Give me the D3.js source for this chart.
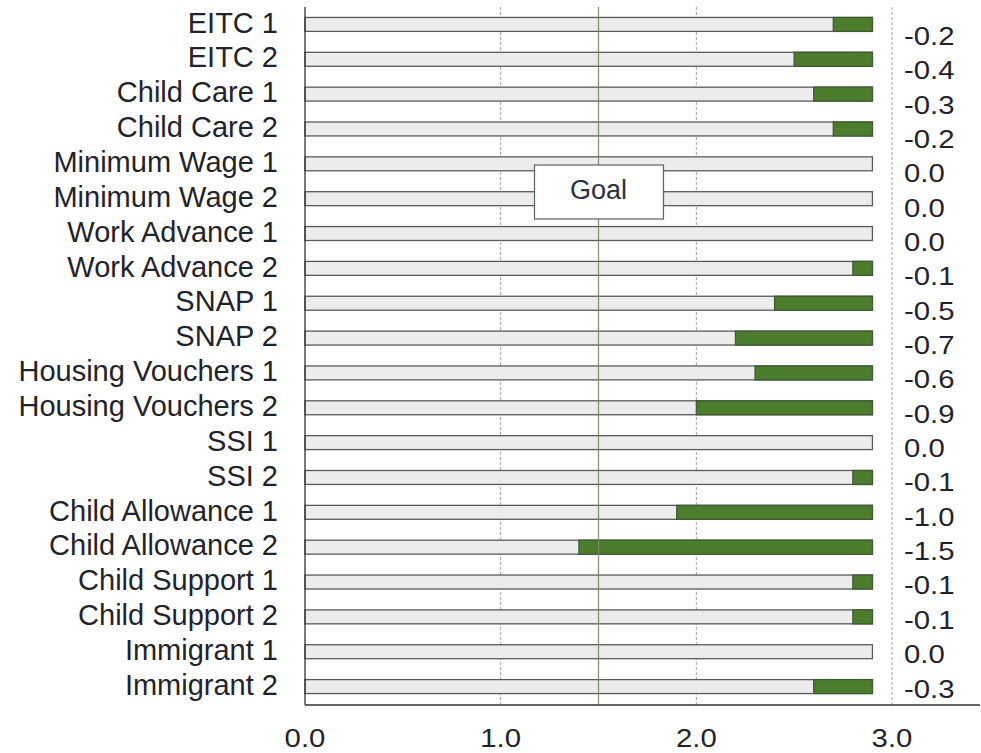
<!DOCTYPE html>
<html>
<head>
<meta charset="utf-8">
<script src="https://cdn.jsdelivr.net/npm/d3@7"></script>
<style>
  html, body { margin: 0; padding: 0; background: #fff; }
  svg { display: block; }
</style>
</head>
<body>
<svg id="chart" width="981" height="753"></svg>
<script>
const categories = [
  "EITC 1", "EITC 2", "Child Care 1", "Child Care 2",
  "Minimum Wage 1", "Minimum Wage 2", "Work Advance 1", "Work Advance 2",
  "SNAP 1", "SNAP 2", "Housing Vouchers 1", "Housing Vouchers 2",
  "SSI 1", "SSI 2", "Child Allowance 1", "Child Allowance 2",
  "Child Support 1", "Child Support 2", "Immigrant 1", "Immigrant 2"
];
const baseline = [2.9, 2.9, 2.9, 2.9, 2.9, 2.9, 2.9, 2.9, 2.9, 2.9,
                  2.9, 2.9, 2.9, 2.9, 2.9, 2.9, 2.9, 2.9, 2.9, 2.9];
const changes = [-0.2, -0.4, -0.3, -0.2, 0.0, 0.0, 0.0, -0.1, -0.5, -0.7,
                 -0.6, -0.9, 0.0, -0.1, -1.0, -1.5, -0.1, -0.1, 0.0, -0.3];
const xTicks = [0, 1, 2, 3];
const goalValue = 1.5;
const goalLabel = "Goal";

const rows = categories.map((c, i) => ({ cat: c, base: baseline[i], change: changes[i] }));

const svg = d3.select("#chart");
const font = "'Liberation Sans', Arial, sans-serif";
const textColor = "#1f232b";

const x = d3.scaleLinear().domain([0, 3]).range([305, 892]);
const y = d3.scaleBand().domain(categories).range([7, 704]).paddingInner(0.6).paddingOuter(0.3);
const yVal = d3.scalePoint().domain(categories).range([45, 697.5]);

const plotTop = 7, plotBottom = 705;

// gridlines (dashed)
svg.append("g").selectAll("line").data(xTicks.filter(d => d > 0)).join("line")
  .attr("x1", d => x(d)).attr("x2", d => x(d))
  .attr("y1", plotTop).attr("y2", plotBottom)
  .attr("stroke", "#a0a0a0").attr("stroke-width", 1).attr("stroke-dasharray", "3,2");

// baseline gray bars
svg.append("g").selectAll("rect").data(rows).join("rect")
  .attr("x", x(0))
  .attr("y", d => y(d.cat))
  .attr("width", d => x(d.base) - x(0))
  .attr("height", y.bandwidth())
  .attr("fill", "#ececec")
  .attr("stroke", "#5a5a5a").attr("stroke-width", 1.3);

// green change segments
svg.append("g").selectAll("rect").data(rows.filter(d => d.change !== 0)).join("rect")
  .attr("x", d => x(d.base + d.change))
  .attr("y", d => y(d.cat))
  .attr("width", d => x(d.base) - x(d.base + d.change))
  .attr("height", y.bandwidth())
  .attr("fill", "#4b7d2c")
  .attr("stroke", "#3f5a33").attr("stroke-width", 1.3);

// goal line
svg.append("line")
  .attr("x1", x(goalValue)).attr("x2", x(goalValue))
  .attr("y1", plotTop).attr("y2", plotBottom)
  .attr("stroke", "#7b8a62").attr("stroke-width", 1.3).attr("opacity", 0.9);

// goal box
const gx = x(goalValue);
svg.append("rect")
  .attr("x", gx - 64).attr("y", 165).attr("width", 129).attr("height", 54)
  .attr("fill", "#fff").attr("stroke", "#5a6070").attr("stroke-width", 1.2);
svg.append("text")
  .attr("x", gx).attr("y", 199)
  .attr("text-anchor", "middle")
  .attr("font-family", font).attr("font-size", 27).attr("fill", "#2a3142")
  .text(goalLabel);

// axes lines
svg.append("line").attr("x1", x(0)).attr("x2", x(0)).attr("y1", plotTop).attr("y2", plotBottom)
  .attr("stroke", "#333").attr("stroke-width", 1.3);
svg.append("line").attr("x1", x(0)).attr("x2", 980).attr("y1", plotBottom).attr("y2", plotBottom)
  .attr("stroke", "#333").attr("stroke-width", 1.3);

// category labels
svg.append("g").selectAll("text").data(rows).join("text")
  .attr("x", 278)
  .attr("y", d => y(d.cat) + y.bandwidth() / 2 + 8.2)
  .attr("text-anchor", "end")
  .attr("font-family", font).attr("font-size", 29).attr("fill", textColor)
  .text(d => d.cat);

// change values on right (slightly wide numerals)
svg.append("g").selectAll("text").data(rows).join("text")
  .attr("transform", d => `translate(904,${yVal(d.cat)}) scale(1.15,1)`)
  .attr("text-anchor", "start")
  .attr("font-family", font).attr("font-size", 25.5).attr("fill", textColor)
  .text(d => d.change.toFixed(1));

// x tick labels
svg.append("g").selectAll("text").data(xTicks).join("text")
  .attr("transform", d => `translate(${x(d)},746.5) scale(1.15,1)`)
  .attr("text-anchor", "middle")
  .attr("font-family", font).attr("font-size", 25.5).attr("fill", textColor)
  .text(d => d.toFixed(1));
</script>
</body>
</html>
